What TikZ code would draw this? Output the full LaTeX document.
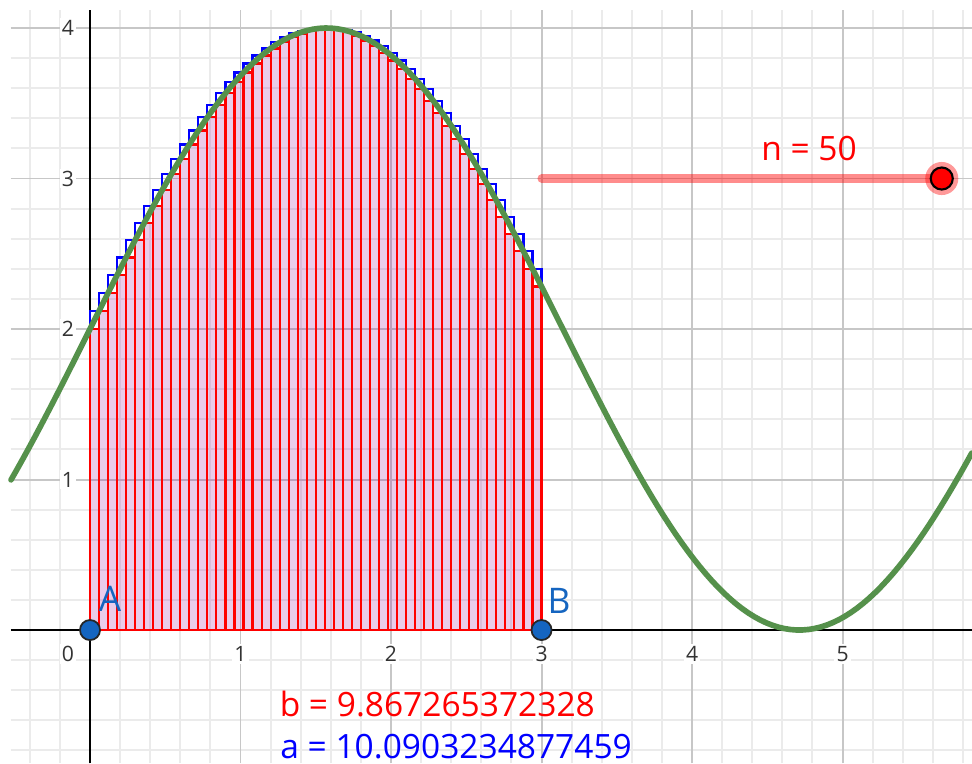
\documentclass[tikz,border=0pt]{standalone}
\usepackage{fontspec}
\setmainfont{Open Sans}
\usepackage{tikz}
\usetikzlibrary{positioning,calc}
\definecolor{GGblue}{RGB}{21,101,192}
\definecolor{GGgreen}{RGB}{85,145,75}
\definecolor{GGsum}{RGB}{150,0,150}
\tikzset{
  gg/minorgrid/.style={draw=black!8, line width=0.55pt},
  gg/majorgrid/.style={draw=black!22, line width=0.55pt},
  gg/axis/.style={draw=black, line width=0.6pt},
  gg/tick/.style={font=\fontsize{6}{7}\selectfont, text=black!80, fill=white, inner sep=0.6pt},
  gg/curve/.style={draw=GGgreen, line width=1.6pt, line cap=round},
  gg/upper/.style={draw=blue, line width=0.6pt},
  gg/lower/.style={draw=red, line width=0.6pt, fill=GGsum, fill opacity=0.2},
  gg/point/.style={circle, draw=black!85, line width=0.5pt, fill=GGblue, inner sep=0pt, minimum size=0.2cm},
  gg/ptlabel/.style={font=\fontsize{10}{12}\selectfont, text=GGblue, inner sep=0pt},
  gg/value/.style={font=\fontsize{9.5}{11}\selectfont, inner sep=0pt, anchor=west},
  gg/sliderline/.style={draw=red, draw opacity=0.45, line width=2.3pt, line cap=round},
  gg/sliderhalo/.style={circle, fill=red, fill opacity=0.4, inner sep=0pt, minimum size=0.33cm},
  gg/sliderpt/.style={circle, draw=black, line width=0.6pt, fill=red, inner sep=0pt, minimum size=0.22cm}
}

\begin{document}
\begin{tikzpicture}[x=1.5cm, y=1.5cm]
\useasboundingbox[fill=white] (-0.598,-0.885) rectangle (5.86,4.186);
\draw[gg/minorgrid] (-0.525,-0.885) grid[step=0.2] (5.86,4.12);
\draw[gg/majorgrid] (-0.525,-0.885) grid[step=1] (5.86,4.12);
\draw[gg/axis] (-0.525,0) -- (5.86,0);
\draw[gg/axis] (0,-0.885) -- (0,4.12);
\node[gg/tick] (t0) at (-0.146,-0.16) {0};
\foreach \k in {1,...,5}
  \node[gg/tick] (tx\k) at (\k,-0.16) {\k};
\foreach \k in {1,...,4}
  \node[gg/tick] (ty\k) at (-0.146,\k) {\k};

% upper and lower sums, n = 50 on [0,3]
\foreach \i in {0,...,49}{
  \pgfmathsetmacro\xa{0.06*\i}
  \pgfmathsetmacro\xb{\xa+0.06}
  \pgfmathsetmacro\fa{2+2*sin(\xa r)}
  \pgfmathsetmacro\fb{2+2*sin(\xb r)}
  \pgfmathsetmacro\sumhi{ifthenelse(and(\xa<pi/2,\xb>pi/2),4,max(\fa,\fb))}
  \draw[gg/upper] (\xa,0) rectangle (\xb,\sumhi);
}
\foreach \i in {0,...,49}{
  \pgfmathsetmacro\xa{0.06*\i}
  \pgfmathsetmacro\xb{\xa+0.06}
  \pgfmathsetmacro\sumlo{min(2+2*sin(\xa r),2+2*sin(\xb r))}
  \draw[gg/lower] (\xa,0) rectangle (\xb,\sumlo);
}
\draw[gg/curve] plot[domain=-0.525:5.86, samples=160] (\x,{2+2*sin(\x r)});

\node[gg/point] (A) at (0,0) {};
\node[gg/point] (B) at (3,0) {};
\node[gg/ptlabel] (labA) at (0.133,0.206) {A};
\node[gg/ptlabel] (labB) at (3.116,0.193) {B};

% slider
\coordinate (s0) at (3,3);
\coordinate (s1) at (5.659,3);
\draw[gg/sliderline] (s0) -- (s1);
\node[gg/sliderhalo] (nhalo) at (s1) {};
\node[gg/sliderpt] (npt) at (s1) {};
\node[gg/value, anchor=center, text=red] (nlab) at (4.777,3.2) {n = 50};

\node[gg/value, text=red] (bval) at (1.256,-0.4925) {b = 9.867265372328};
\node[gg/value, text=blue] (aval) at (1.26,-0.772) {a = 10.0903234877459};
\end{tikzpicture}
\end{document}
